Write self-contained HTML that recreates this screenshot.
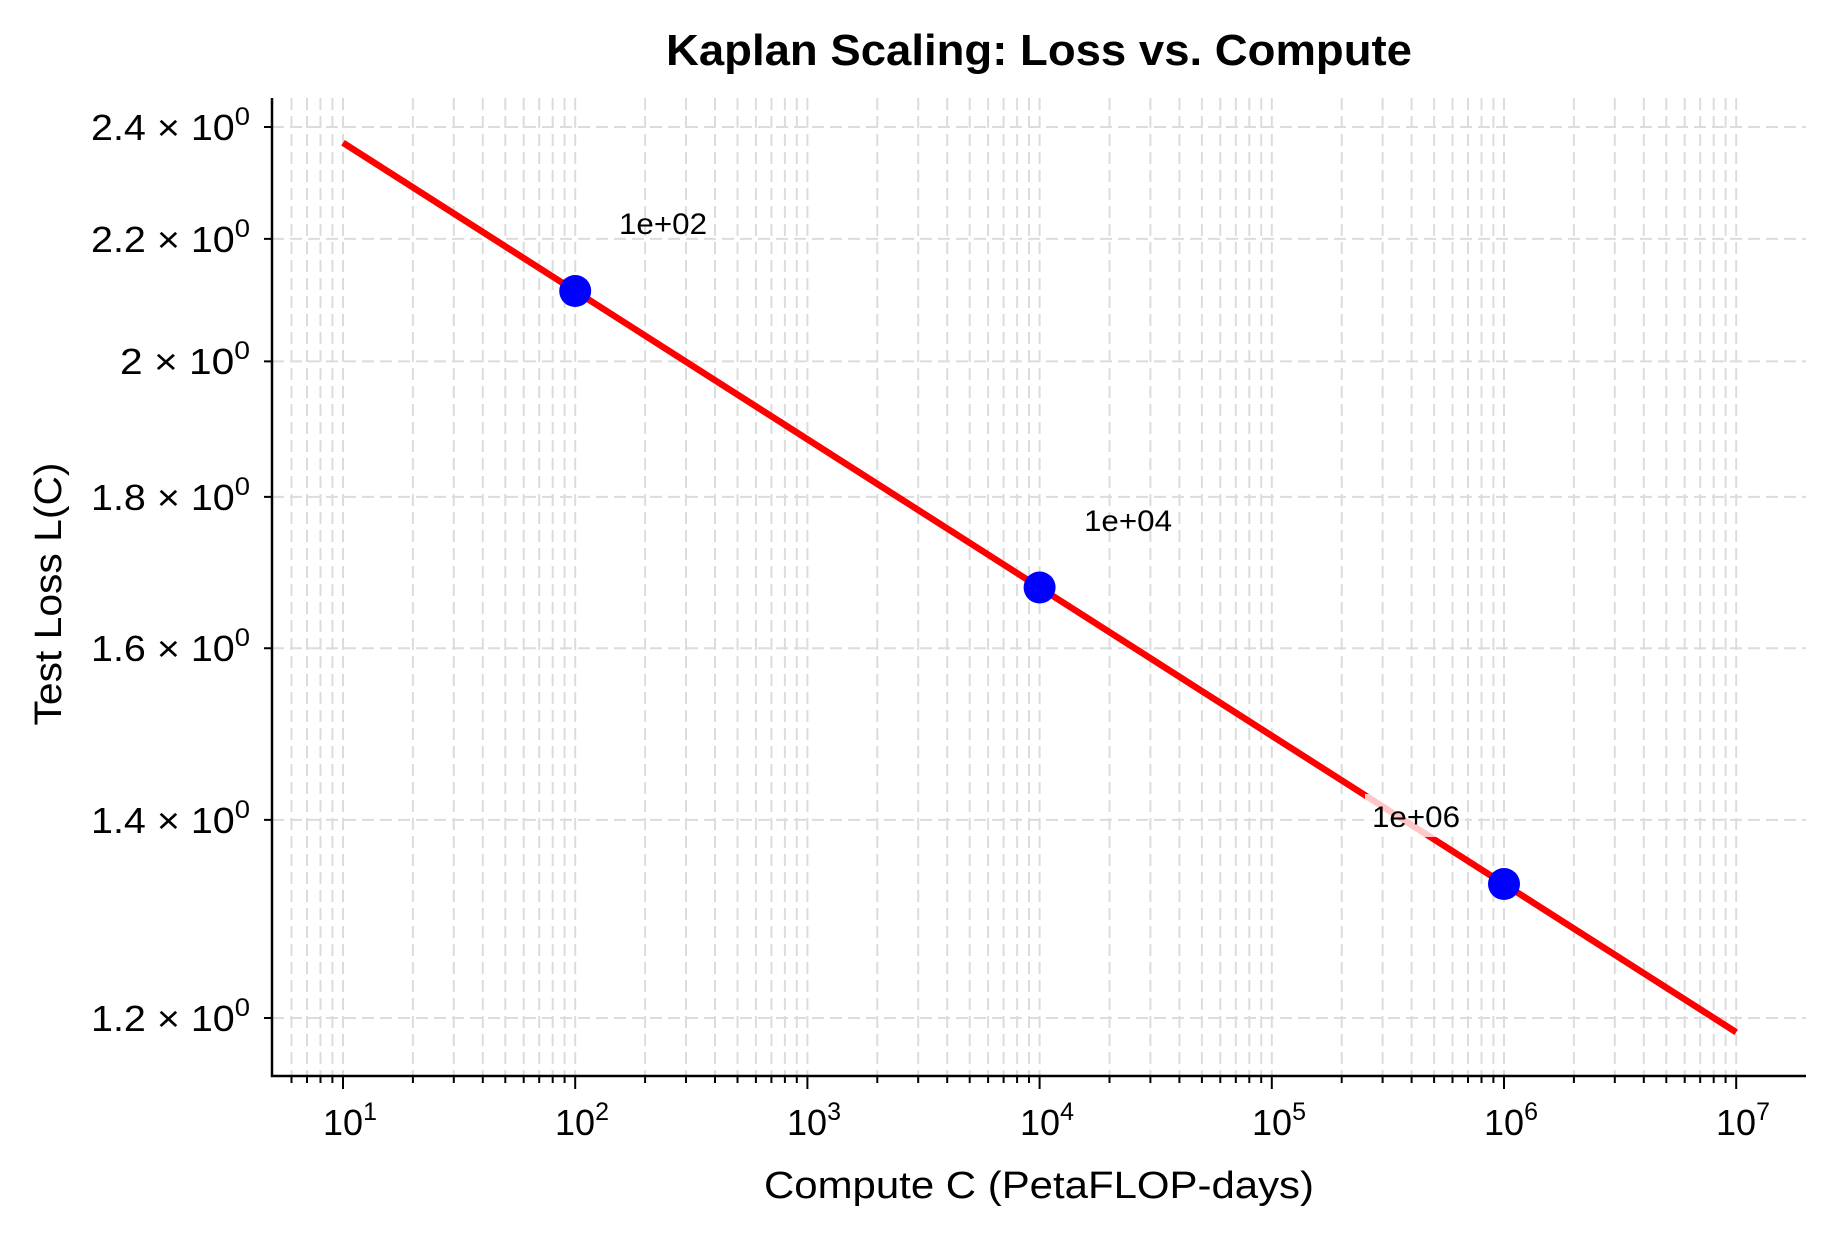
<!DOCTYPE html>
<html><head><meta charset="utf-8"><style>
html,body{margin:0;padding:0;background:#fff;}
svg{display:block;}
text{font-family:"Liberation Sans","DejaVu Sans",sans-serif;fill:#000;}
</style></head><body>
<svg width="1834" height="1234" viewBox="0 0 1834 1234" xmlns="http://www.w3.org/2000/svg">
<rect width="1834" height="1234" fill="#fff"/>
<g stroke="#dcdcdc" stroke-width="2" stroke-dasharray="12 6" fill="none">
<path d="M291.5 98V1076M307 98V1076M320.5 98V1076M332.4 98V1076
M343 98V1076M412.9 98V1076M453.8 98V1076M482.8 98V1076M505.3 98V1076M523.7 98V1076M539.2 98V1076M552.7 98V1076M564.6 98V1076
M575.2 98V1076M645.1 98V1076M686 98V1076M715 98V1076M737.5 98V1076M755.9 98V1076M771.4 98V1076M784.9 98V1076M796.8 98V1076
M807.4 98V1076M877.3 98V1076M918.2 98V1076M947.2 98V1076M969.7 98V1076M988.1 98V1076M1003.6 98V1076M1017.1 98V1076M1029 98V1076
M1039.6 98V1076M1109.5 98V1076M1150.4 98V1076M1179.4 98V1076M1201.9 98V1076M1220.3 98V1076M1235.8 98V1076M1249.3 98V1076M1261.2 98V1076
M1271.8 98V1076M1341.7 98V1076M1382.6 98V1076M1411.6 98V1076M1434.1 98V1076M1452.5 98V1076M1468 98V1076M1481.5 98V1076M1493.4 98V1076
M1504 98V1076M1573.9 98V1076M1614.8 98V1076M1643.8 98V1076M1666.3 98V1076M1684.7 98V1076M1700.2 98V1076M1713.7 98V1076M1725.6 98V1076
M1736.2 98V1076"/>
<path d="M272 127H1806M272 238.9H1806M272 361.4H1806M272 496.9H1806M272 648.2H1806M272 819.9H1806M272 1018H1806"/>
</g>
<line x1="343" y1="142.75" x2="1736.2" y2="1032.25" stroke="#ff0000" stroke-width="6.5"/>
<rect x="1365" y="794" width="100" height="43" fill="#fff" fill-opacity="0.78"/>
<g fill="#0000ff">
<circle cx="575.2" cy="291" r="16"/>
<circle cx="1039.6" cy="587.5" r="16"/>
<circle cx="1504" cy="884" r="16"/>
</g>
<g font-size="30">
<text x="619" y="234" textLength="88" lengthAdjust="spacingAndGlyphs">1e+02</text>
<text x="1084" y="531" textLength="88" lengthAdjust="spacingAndGlyphs">1e+04</text>
<text x="1372" y="827" textLength="88" lengthAdjust="spacingAndGlyphs">1e+06</text>
</g>
<g stroke="#000" stroke-width="2.5" fill="none">
<path d="M272 98V1077.2M270.8 1076H1806"/>
</g>
<g stroke="#000" stroke-width="2" fill="none">
<path d="M343 1076v13M575.2 1076v13M807.4 1076v13M1039.6 1076v13M1271.8 1076v13M1504 1076v13M1736.2 1076v13"/>
<path d="M291.5 1076v7M307 1076v7M320.5 1076v7M332.4 1076v7
M412.9 1076v7M453.8 1076v7M482.8 1076v7M505.3 1076v7M523.7 1076v7M539.2 1076v7M552.7 1076v7M564.6 1076v7
M645.1 1076v7M686 1076v7M715 1076v7M737.5 1076v7M755.9 1076v7M771.4 1076v7M784.9 1076v7M796.8 1076v7
M877.3 1076v7M918.2 1076v7M947.2 1076v7M969.7 1076v7M988.1 1076v7M1003.6 1076v7M1017.1 1076v7M1029 1076v7
M1109.5 1076v7M1150.4 1076v7M1179.4 1076v7M1201.9 1076v7M1220.3 1076v7M1235.8 1076v7M1249.3 1076v7M1261.2 1076v7
M1341.7 1076v7M1382.6 1076v7M1411.6 1076v7M1434.1 1076v7M1452.5 1076v7M1468 1076v7M1481.5 1076v7M1493.4 1076v7
M1573.9 1076v7M1614.8 1076v7M1643.8 1076v7M1666.3 1076v7M1684.7 1076v7M1700.2 1076v7M1713.7 1076v7M1725.6 1076v7"/>
<path d="M272 127h-8M272 238.9h-8M272 361.4h-8M272 496.9h-8M272 648.2h-8M272 819.9h-8M272 1018h-8"/>
</g>
<g font-size="36">
<text x="91" y="140" textLength="159" lengthAdjust="spacingAndGlyphs">2.4 × 10<tspan font-size="25" dy="-15">0</tspan></text>
<text x="91" y="252" textLength="159" lengthAdjust="spacingAndGlyphs">2.2 × 10<tspan font-size="25" dy="-15">0</tspan></text>
<text x="120" y="374" textLength="130" lengthAdjust="spacingAndGlyphs">2 × 10<tspan font-size="25" dy="-15">0</tspan></text>
<text x="91" y="510" textLength="159" lengthAdjust="spacingAndGlyphs">1.8 × 10<tspan font-size="25" dy="-15">0</tspan></text>
<text x="91" y="661" textLength="159" lengthAdjust="spacingAndGlyphs">1.6 × 10<tspan font-size="25" dy="-15">0</tspan></text>
<text x="91" y="833" textLength="159" lengthAdjust="spacingAndGlyphs">1.4 × 10<tspan font-size="25" dy="-15">0</tspan></text>
<text x="91" y="1031" textLength="159" lengthAdjust="spacingAndGlyphs">1.2 × 10<tspan font-size="25" dy="-15">0</tspan></text>
</g>
<g font-size="36" text-anchor="middle">
<text x="350" y="1135">10<tspan font-size="25" dy="-15">1</tspan></text>
<text x="582" y="1135">10<tspan font-size="25" dy="-15">2</tspan></text>
<text x="814" y="1135">10<tspan font-size="25" dy="-15">3</tspan></text>
<text x="1047" y="1135">10<tspan font-size="25" dy="-15">4</tspan></text>
<text x="1279" y="1135">10<tspan font-size="25" dy="-15">5</tspan></text>
<text x="1511" y="1135">10<tspan font-size="25" dy="-15">6</tspan></text>
<text x="1743" y="1135">10<tspan font-size="25" dy="-15">7</tspan></text>
</g>
<text x="1039" y="1198" font-size="38" text-anchor="middle" textLength="550" lengthAdjust="spacingAndGlyphs">Compute C (PetaFLOP-days)</text>
<text transform="translate(61 594) rotate(-90)" font-size="38" text-anchor="middle" textLength="263" lengthAdjust="spacingAndGlyphs">Test Loss L(C)</text>
<text x="1039" y="65" font-size="44" font-weight="bold" text-anchor="middle" textLength="746" lengthAdjust="spacingAndGlyphs">Kaplan Scaling: Loss vs. Compute</text>
</svg>
</body></html>
